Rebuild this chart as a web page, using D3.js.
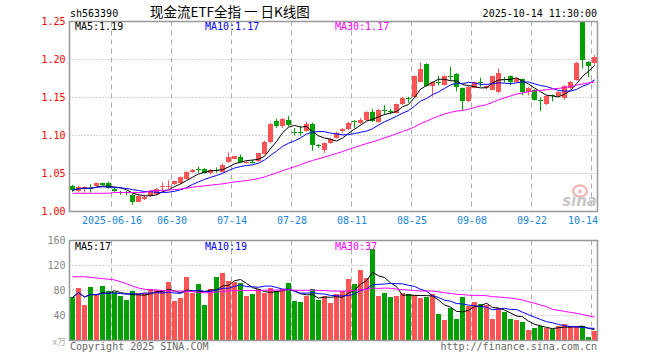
<!DOCTYPE html>
<html><head><meta charset="utf-8">
<script src="https://cdn.jsdelivr.net/npm/d3@7"></script>
<style>body{margin:0;background:#fff}svg{display:block}</style>
</head><body><svg id="c" width="660" height="360"></svg>
<script>
// ---------- data ----------
const dates = ["06-05","06-06","06-09","06-10","06-11","06-12","06-13","06-16","06-17","06-18",
"06-19","06-20","06-23","06-24","06-25","06-26","06-27","06-30","07-01","07-02",
"07-03","07-04","07-07","07-08","07-09","07-10","07-11","07-14","07-15","07-16",
"07-17","07-18","07-21","07-22","07-23","07-24","07-25","07-28","07-29","07-30",
"07-31","08-01","08-04","08-05","08-06","08-07","08-08","08-11","08-12","08-13",
"08-14","08-15","08-18","08-19","08-20","08-21","08-22","08-25","08-26","08-27",
"08-28","08-29","09-01","09-02","09-03","09-04","09-05","09-08","09-09","09-10",
"09-11","09-12","09-15","09-16","09-17","09-18","09-19","09-22","09-23","09-24",
"09-25","09-26","09-29","09-30","10-09","10-10","10-13","10-14"];
const open = [1.033,1.027,1.030,1.031,1.033,1.037,1.038,1.030,1.026,1.026,
1.022,1.013,1.017,1.021,1.023,1.032,1.033,1.0356,1.037,1.043,
1.052,1.0555,1.056,1.050,1.055,1.052,1.065,1.0695,1.0716,1.064,
1.065,1.066,1.076,1.0915,1.119,1.112,1.120,1.105,1.105,1.106,
1.1157,1.087,1.0805,1.090,1.097,1.1055,1.108,1.119,1.1165,1.120,
1.131,1.118,1.134,1.132,1.130,1.141,1.150,1.151,1.1706,1.194,
1.165,1.171,1.167,1.178,1.181,1.162,1.1455,1.163,1.170,1.162,
1.1605,1.157,1.174,1.178,1.1706,1.174,1.157,1.1605,1.147,1.141,
1.153,1.152,1.149,1.162,1.173,1.265,1.197,1.195];
const high = [1.035,1.034,1.033,1.036,1.038,1.038,1.039,1.031,1.027,1.027,
1.023,1.022,1.022,1.028,1.031,1.038,1.041,1.040,1.046,1.053,
1.056,1.059,1.057,1.056,1.058,1.063,1.078,1.073,1.075,1.066,
1.068,1.077,1.093,1.117,1.122,1.123,1.126,1.110,1.112,1.118,
1.117,1.089,1.091,1.097,1.105,1.110,1.118,1.120,1.123,1.132,
1.135,1.135,1.140,1.135,1.142,1.151,1.151,1.179,1.196,1.195,
1.171,1.178,1.179,1.190,1.182,1.163,1.165,1.171,1.176,1.166,
1.179,1.188,1.177,1.179,1.176,1.175,1.164,1.161,1.150,1.153,
1.154,1.158,1.166,1.172,1.197,1.265,1.198,1.206];
const low = [1.026,1.025,1.025,1.025,1.033,1.034,1.030,1.026,1.022,1.021,
1.009,1.012,1.015,1.019,1.022,1.027,1.030,1.035,1.036,1.042,
1.051,1.051,1.050,1.049,1.051,1.051,1.064,1.069,1.064,1.063,
1.063,1.065,1.075,1.090,1.110,1.110,1.112,1.100,1.100,1.105,
1.080,1.084,1.077,1.089,1.096,1.104,1.107,1.110,1.115,1.119,
1.118,1.117,1.127,1.128,1.129,1.140,1.143,1.150,1.170,1.164,
1.151,1.166,1.166,1.172,1.158,1.133,1.144,1.162,1.164,1.161,
1.160,1.156,1.170,1.166,1.170,1.153,1.153,1.146,1.132,1.140,
1.145,1.151,1.147,1.161,1.172,1.188,1.177,1.193];
const close = [1.028,1.032,1.032,1.030,1.038,1.035,1.031,1.027,1.0255,1.025,
1.012,1.021,1.019,1.027,1.030,1.033,1.034,1.0396,1.045,1.052,
1.055,1.055,1.051,1.055,1.054,1.0607,1.0716,1.0726,1.065,1.065,
1.064,1.077,1.092,1.115,1.112,1.122,1.1135,1.104,1.104,1.1157,
1.088,1.086,1.090,1.096,1.103,1.108,1.117,1.118,1.121,1.131,
1.119,1.134,1.133,1.131,1.141,1.1495,1.1495,1.178,1.187,1.165,
1.170,1.170,1.178,1.177,1.164,1.1455,1.164,1.1706,1.169,1.165,
1.178,1.1825,1.173,1.1706,1.175,1.157,1.163,1.147,1.146,1.152,
1.152,1.157,1.165,1.1706,1.196,1.200,1.191,1.2035];
const volume = [69,84,56,85,72,86,78,77,70,64,
78,76,75,81,80,80,93,62,67,101,
75,90,56,82,101,108,94,93,92,70,
74,81,75,84,78,81,92,62,61,70,
82,64,70,60,74,78,98,90,112,100,
146,70,76,69,70,76,74,72,68,69,
73,42,32,52,34,69,55,61,58,56,
34,51,45,34,32,28,16,20,22,19,
18,23,25,22,23,22,5,15];
const priceMa30Head = [1.024,1.024,1.024,1.024,1.024,1.024,1.024,1.025,1.025,1.025,1.025,1.025,1.025];
const volMa30Head = [102,102,102,101,100,99,98,97,94,91,87,84,82,81,81,80,80,79,79,79,78];
const tickDates = ["06-16","06-30","07-14","07-28","08-11","08-25","09-08","09-22","10-14"];
const tickLabels = ["2025-06-16","06-30","07-14","07-28","08-11","08-25","09-08","09-22","10-14"];
const priceTicks = [1.00,1.05,1.10,1.15,1.20,1.25];
const priceGrid = [1.05,1.10,1.15,1.20];
const volTicks = [40,80,120,160];
const volGrid = [40,80,120];
const maPeriods = [5,10,30];

// ---------- layout ----------
const RED="#ff5454", GREEN="#00a000";
const maColors=["#000000","#0000ff","#ff00ff"];
const MONO="'DejaVu Sans Mono', monospace";
const L=69.5, R=597.5;
const N=dates.length;
const svg=d3.select("#c");
const xs=d3.scaleLinear().domain([0,N]).range([L,R]);
const xc=i=>xs(i+0.5);
const y=d3.scaleLinear().domain([1.00,1.25]).range([211.5,21.5]);
const yv=d3.scaleLinear().domain([0,160]).range([340.5,240.5]);

function ma(arr,n,head){return arr.map((_,i)=>{
  if(head && i<head.length) return head[i];
  const s=arr.slice(Math.max(0,i-n+1),i+1);return d3.mean(s);});}

// header
svg.append("text").attr("x",70).attr("y",16.5).attr("font-family",MONO).attr("font-size",10).attr("fill","#000").text("sh563390");
svg.append("text").attr("x",150).attr("y",17).attr("font-family","'Noto Sans CJK SC',sans-serif").attr("font-size",13.5).attr("fill","#000").text("现金流ETF全指 一 日K线图");
svg.append("text").attr("x",597).attr("y",16.5).attr("text-anchor","end").attr("font-family",MONO).attr("font-size",10).attr("fill","#000").text("2025-10-14 11:30:00");

const defs=svg.append("defs");
defs.append("clipPath").attr("id","cp").append("rect").attr("x",L).attr("y",21.5).attr("width",R-L).attr("height",190);
defs.append("clipPath").attr("id","cv").append("rect").attr("x",L).attr("y",240.5).attr("width",R-L).attr("height",100);

function panel(ys,gridVals,top,bottom){
  const g=svg.append("g");
  g.selectAll("line.h").data(gridVals).join("line").attr("x1",L).attr("x2",R)
   .attr("y1",d=>ys(d)).attr("y2",d=>ys(d)).attr("stroke","#aaa").attr("stroke-dasharray","1,2");
  const tIdx=tickDates.map(d=>dates.indexOf(d));
  g.selectAll("line.v").data(tIdx).join("line").attr("x1",d=>xs(d)).attr("x2",d=>xs(d))
   .attr("y1",top).attr("y2",bottom).attr("stroke","#aaa").attr("stroke-dasharray","5,4");
  return g;
}
panel(y,priceGrid,21.5,211.5);
panel(yv,volGrid,240.5,340.5);

// sina watermark
const wm=svg.append("g");
wm.append("ellipse").attr("cx",580).attr("cy",191).attr("rx",7).attr("ry",5.5).attr("fill","none").attr("stroke","#f2b8b8").attr("stroke-width",2.5);
wm.append("circle").attr("cx",580).attr("cy",191.5).attr("r",2).attr("fill","#f2b8b8");
wm.append("text").attr("x",597).attr("y",206).attr("text-anchor","end").attr("font-family","'DejaVu Sans',sans-serif").attr("font-style","italic").attr("font-weight","bold").attr("font-size",15).attr("fill","#c8c8c8").text("sina");

// candles
const cg=svg.append("g").attr("clip-path","url(#cp)");
const idx=d3.range(N);
const col=i=>close[i]>=open[i]?RED:GREEN;
cg.selectAll("line.w").data(idx).join("line").attr("x1",xc).attr("x2",xc)
  .attr("y1",i=>y(high[i])).attr("y2",i=>y(low[i])).attr("stroke",col).attr("stroke-width",1);
cg.selectAll("rect.b").data(idx).join("rect")
  .attr("x",i=>xc(i)-2.5).attr("width",5)
  .attr("y",i=>Math.round(y(Math.max(open[i],close[i]))))
  .attr("height",i=>Math.max(1,Math.round(y(Math.min(open[i],close[i])))-Math.round(y(Math.max(open[i],close[i])))))
  .attr("fill",col);

// price MAs
const pMA=maPeriods.map(n=>ma(close,n,n===30?priceMa30Head:null));
pMA.forEach((m,k)=>{
  cg.append("path").datum(idx).attr("fill","none").attr("stroke",maColors[k]).attr("stroke-width",1)
    .attr("d",d3.line().x(xc).y(i=>y(m[i])));
});

// volume bars
const vg=svg.append("g").attr("clip-path","url(#cv)");
vg.selectAll("rect").data(idx).join("rect")
  .attr("x",i=>xc(i)-2.5).attr("width",5)
  .attr("y",i=>Math.round(yv(volume[i])-0.5)).attr("height",i=>340.5-Math.round(yv(volume[i])-0.5))
  .attr("fill",col);
const vMA=maPeriods.map(n=>ma(volume,n,n===30?volMa30Head:null));
vMA.forEach((m,k)=>{
  vg.append("path").datum(idx).attr("fill","none").attr("stroke",maColors[k]).attr("stroke-width",1)
    .attr("d",d3.line().x(xc).y(i=>yv(m[i])));
});

// borders
[[21.5,211.5],[240.5,340.5]].forEach(([t,b])=>{
  svg.append("rect").attr("x",L).attr("y",t).attr("width",R-L).attr("height",b-t).attr("fill","none").attr("stroke","#999").attr("stroke-width",1.5);
});

// axes
const ya=svg.append("g").attr("transform",`translate(${L-1},0)`)
  .call(d3.axisLeft(y).tickValues(priceTicks).tickFormat(d3.format(".2f")).tickSize(0).tickPadding(3));
ya.select(".domain").remove();
ya.selectAll("text").attr("fill","#ff0000").attr("font-family",MONO).attr("font-size",10);
const va=svg.append("g").attr("transform",`translate(${L-1},0)`)
  .call(d3.axisLeft(yv).tickValues(volTicks).tickSize(0).tickPadding(3));
va.select(".domain").remove();
va.selectAll("text").attr("fill","#888").attr("font-family",MONO).attr("font-size",10);
svg.append("text").attr("x",66).attr("y",345).attr("text-anchor","end").attr("font-family","'Noto Sans CJK SC',sans-serif").attr("font-size",9).attr("fill","#aaa").text("x万");

const tIdx=tickDates.map(d=>dates.indexOf(d));
const xa=svg.append("g").attr("transform","translate(0,213)")
  .call(d3.axisBottom(xs).tickValues(tIdx).tickFormat((d,k)=>tickLabels[k]).tickSize(0).tickPadding(4));
xa.select(".domain").remove();
xa.selectAll("text").attr("fill","#1a86d9").attr("font-family",MONO).attr("font-size",10);
xa.selectAll("text").filter((d,k)=>k===tIdx.length-1).attr("text-anchor","end").attr("dx",R-xs(tIdx[tIdx.length-1]));

// MA legends
const fmtP=d3.format(".2f");
const legP=["MA5:","MA10:","MA30:"];
const legX=[75,205,335];
legP.forEach((t,k)=>{
  svg.append("text").attr("x",legX[k]).attr("y",30).attr("font-family",MONO).attr("font-size",10).attr("fill",maColors[k]).text(t+fmtP(pMA[k][N-1]));
  svg.append("text").attr("x",legX[k]).attr("y",250).attr("font-family",MONO).attr("font-size",10).attr("fill",maColors[k]).text(t+Math.round(vMA[k][N-1]));
});

// footer
svg.append("text").attr("x",70).attr("y",350).attr("font-family",MONO).attr("font-size",10).attr("fill","#666").text("Copyright 2025 SINA.COM");
svg.append("text").attr("x",597).attr("y",350).attr("text-anchor","end").attr("font-family",MONO).attr("font-size",10).attr("fill","#666").text("http://finance.sina.com.cn");
</script></body></html>
